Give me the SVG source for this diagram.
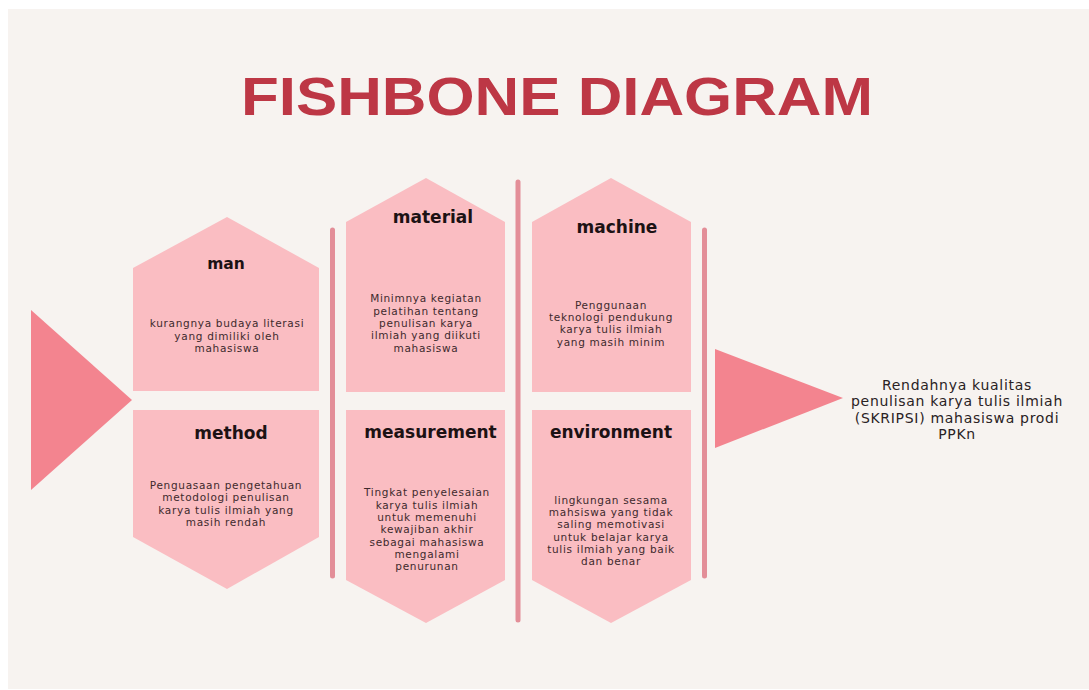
<svg xmlns="http://www.w3.org/2000/svg" width="1089" height="690" viewBox="0 0 1089 690">
<style>
.box{fill:#fabdc2}
.tri{fill:#f3848f}
.bar{stroke:#e38e98;stroke-width:5;stroke-linecap:round;fill:none}
.lbl{font-family:"DejaVu Sans",sans-serif;font-weight:bold;font-size:17px;fill:#1c1214;text-anchor:middle}
.body{font-family:"DejaVu Sans",sans-serif;font-size:10.5px;letter-spacing:0.7px;fill:#3e2a2d;text-anchor:middle}
.eff{font-family:"DejaVu Sans",sans-serif;font-size:14px;letter-spacing:0.7px;fill:#2a2224;text-anchor:middle}
.title{font-family:"Liberation Sans",Arial,sans-serif;font-weight:bold;font-size:53px;fill:#bd3745}
</style>
<rect x="0" y="0" width="1089" height="690" fill="#ffffff"/>
<rect x="8" y="9" width="1081" height="680" fill="#f7f3f0"/>
<text class="title" x="241" y="115" textLength="632" lengthAdjust="spacingAndGlyphs">FISHBONE DIAGRAM</text>

<g id="connectors">
<line class="bar" x1="332.5" y1="230" x2="332.5" y2="576"/>
<line class="bar" x1="518" y1="182" x2="518" y2="620"/>
<line class="bar" x1="704.5" y1="230" x2="704.5" y2="576"/>
</g>

<g id="tail">
<polygon class="tri" points="31,310 132,400 31,490"/>
</g>

<g id="man">
<polygon class="box" points="133,268 227,217 319,268 319,391 133,391"/>
<text class="lbl" x="226" y="269" style="font-size:15.5px">man</text>
<text class="body" x="227"><tspan x="227" y="327.2">kurangnya budaya literasi</tspan><tspan x="227" y="339.5">yang dimiliki oleh</tspan><tspan x="227" y="351.8">mahasiswa</tspan></text>
</g>

<g id="method">
<polygon class="box" points="133,410 319,410 319,537 227,589 133,537"/>
<text class="lbl" x="231" y="439">method</text>
<text class="body" x="226"><tspan x="226" y="489">Penguasaan pengetahuan</tspan><tspan x="226" y="501.3">metodologi penulisan</tspan><tspan x="226" y="513.6">karya tulis ilmiah yang</tspan><tspan x="226" y="525.9">masih rendah</tspan></text>
</g>

<g id="material">
<polygon class="box" points="346,222 426,178 505,222 505,392 346,392"/>
<text class="lbl" x="433" y="223">material</text>
<text class="body" x="426"><tspan x="426" y="302.4">Minimnya kegiatan</tspan><tspan x="426" y="314.7">pelatihan tentang</tspan><tspan x="426" y="327">penulisan karya</tspan><tspan x="426" y="339.3">ilmiah yang diikuti</tspan><tspan x="426" y="351.6">mahasiswa</tspan></text>
</g>

<g id="measurement">
<polygon class="box" points="346,410 505,410 505,580 426,623 346,580"/>
<text class="lbl" x="430.5" y="438">measurement</text>
<text class="body" x="427"><tspan x="427" y="496.3">Tingkat penyelesaian</tspan><tspan x="427" y="508.6">karya tulis ilmiah</tspan><tspan x="427" y="520.9">untuk memenuhi</tspan><tspan x="427" y="533.2">kewajiban akhir</tspan><tspan x="427" y="545.5">sebagai mahasiswa</tspan><tspan x="427" y="557.8">mengalami</tspan><tspan x="427" y="570.1">penurunan</tspan></text>
</g>

<g id="machine">
<polygon class="box" points="532,222 611,178 691,222 691,392 532,392"/>
<text class="lbl" x="617" y="233">machine</text>
<text class="body" x="611"><tspan x="611" y="308.8">Penggunaan</tspan><tspan x="611" y="321.1">teknologi pendukung</tspan><tspan x="611" y="333.4">karya tulis ilmiah</tspan><tspan x="611" y="345.7">yang masih minim</tspan></text>
</g>

<g id="environment">
<polygon class="box" points="532,410 691,410 691,580 611,623 532,580"/>
<text class="lbl" x="611" y="438">environment</text>
<text class="body" x="611"><tspan x="611" y="503.7">lingkungan sesama</tspan><tspan x="611" y="516">mahsiswa yang tidak</tspan><tspan x="611" y="528.3">saling memotivasi</tspan><tspan x="611" y="540.6">untuk belajar karya</tspan><tspan x="611" y="552.9">tulis ilmiah yang baik</tspan><tspan x="611" y="565.2">dan benar</tspan></text>
</g>

<g id="effect">
<polygon class="tri" points="715,349 843,398 715,448"/>
<text class="eff" x="957"><tspan x="957" y="390">Rendahnya kualitas</tspan><tspan x="957" y="406.4">penulisan karya tulis ilmiah</tspan><tspan x="957" y="422.8">(SKRIPSI) mahasiswa prodi</tspan><tspan x="957" y="439.2">PPKn</tspan></text>
</g>
</svg>
